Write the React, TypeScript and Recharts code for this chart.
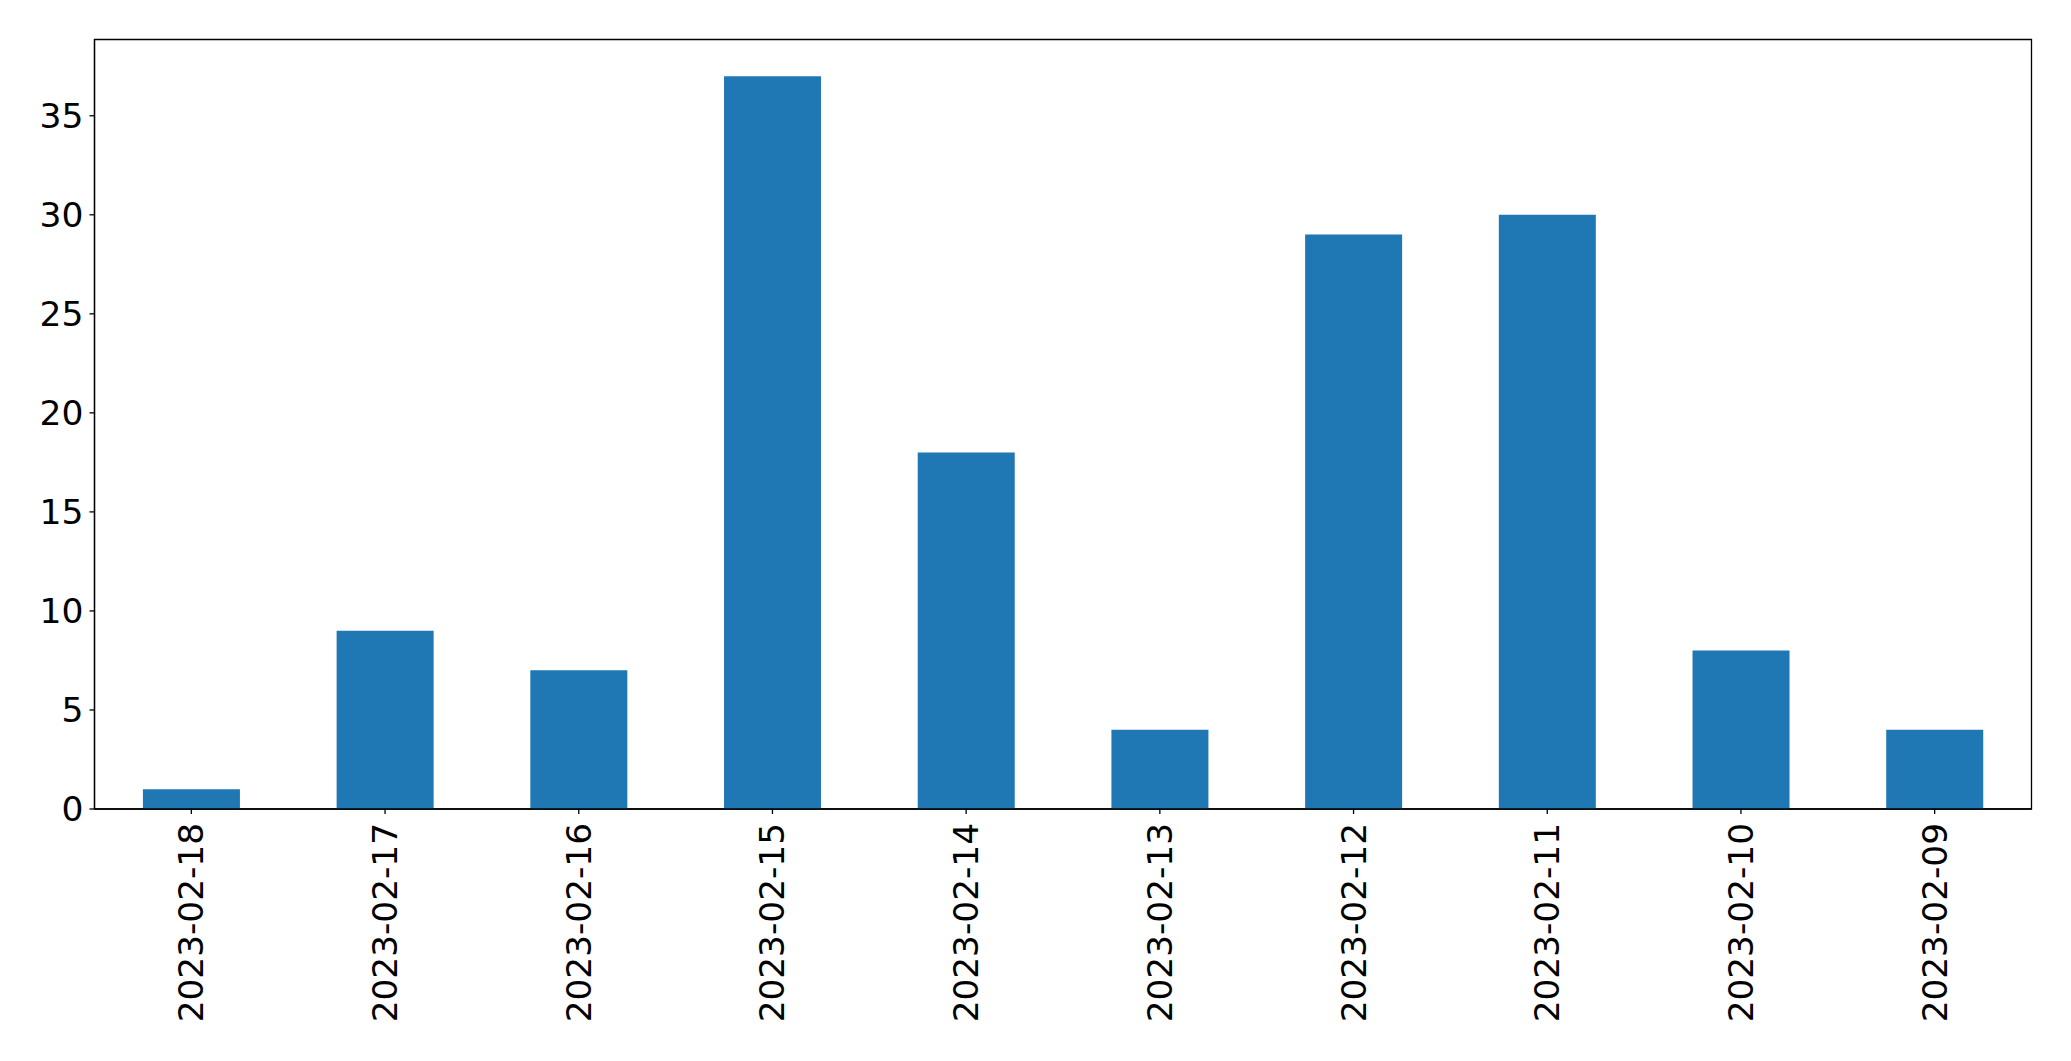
import React from 'react';
import { BarChart, Bar, XAxis, YAxis, ReferenceArea } from 'recharts';

const categories = ['2023-02-18', '2023-02-17', '2023-02-16', '2023-02-15', '2023-02-14', '2023-02-13', '2023-02-12', '2023-02-11', '2023-02-10', '2023-02-09'];
const counts = [1, 9, 7, 37, 18, 4, 29, 30, 8, 4];
const yTicks = [0, 5, 10, 15, 20, 25, 30, 35];
const yMax = 38.85;

const data = categories.map((c, i) => ({ date: c, count: counts[i] }));

const FONT = '"DejaVu Sans", sans-serif';

const XTick = (props: any) => {
  const { x, y, payload } = props;
  return (
    <text
      x={x}
      y={y}
      transform={`rotate(-90, ${x}, ${y})`}
      textAnchor="end"
      dominantBaseline="central"
      fontFamily={FONT}
      fontSize={34.3}
      fill="#000"
    >
      {payload.value}
    </text>
  );
};

export default function App() {
  return (
    <div style={{ position: 'absolute', left: 0, top: 0, width: 2071, height: 1061, background: '#fff' }}>
      <BarChart
        width={2071}
        height={1061}
        data={data}
        margin={{ top: 39.5, right: 39.5, left: 0, bottom: 0 }}
        barCategoryGap="25%"
      >
        <XAxis
          dataKey="date"
          height={252}
          interval={0}
          tick={<XTick />}
          tickSize={5}
          tickMargin={9}
          axisLine={{ stroke: '#000', strokeWidth: 1.3 }}
          tickLine={{ stroke: '#000', strokeWidth: 1.3 }}
        />
        <YAxis
          width={94.5}
          domain={[0, yMax]}
          ticks={yTicks}
          interval={0}
          tickSize={5}
          tickMargin={6}
          axisLine={{ stroke: '#000', strokeWidth: 1.3 }}
          tickLine={{ stroke: '#000', strokeWidth: 1.3 }}
          tick={{ fontFamily: FONT, fontSize: 34.5, fill: '#000' }}
        />
        <ReferenceArea y1={0} y2={yMax} fill="none" stroke="#000" strokeWidth={1.3} fillOpacity={0} />
        <Bar dataKey="count" fill="#1f77b4" isAnimationActive={false} />
      </BarChart>
    </div>
  );
}
